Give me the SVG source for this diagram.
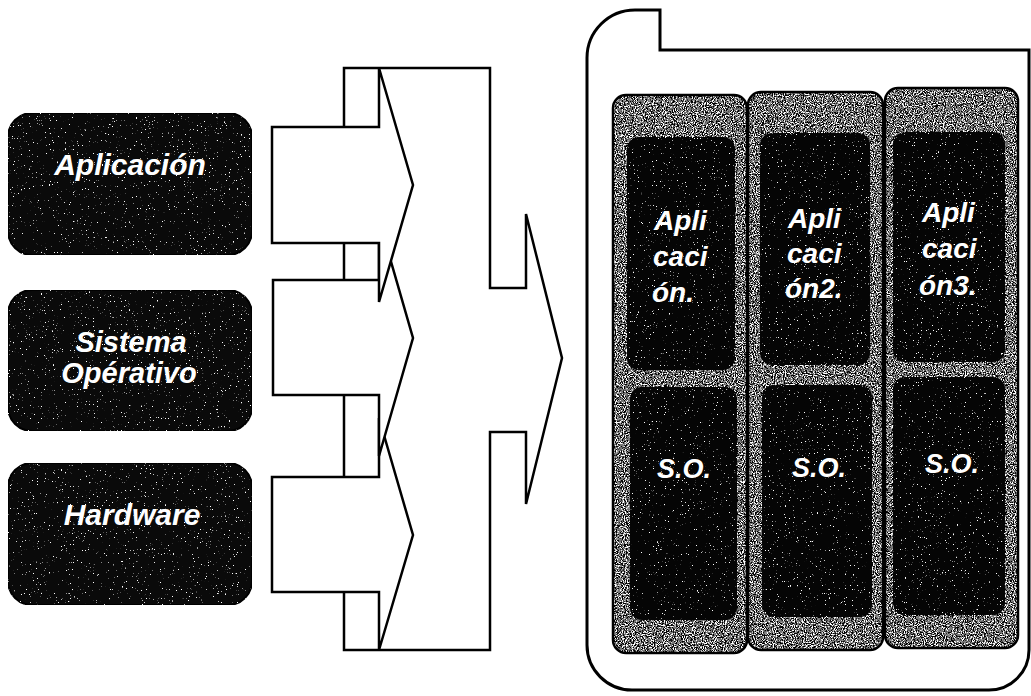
<svg xmlns="http://www.w3.org/2000/svg" width="1031" height="696" viewBox="0 0 1031 696">
<defs>
<filter id="speckDark" x="0" y="0" width="100%" height="100%" color-interpolation-filters="sRGB">
<feTurbulence type="fractalNoise" baseFrequency="0.75" numOctaves="2" seed="7" result="t"/>
<feColorMatrix in="t" type="matrix" values="0 0 0 0 1  0 0 0 0 1  0 0 0 0 1  14 0 0 0 -9.8" result="w"/>
<feComposite in="w" in2="SourceAlpha" operator="in" result="wd"/>
<feMerge><feMergeNode in="SourceGraphic"/><feMergeNode in="wd"/></feMerge>
</filter>
<filter id="speckGrey" x="0" y="0" width="100%" height="100%" color-interpolation-filters="sRGB">
<feTurbulence type="fractalNoise" baseFrequency="0.9" numOctaves="2" seed="3" result="t"/>
<feColorMatrix in="t" type="matrix" values="0 0 0 0 1  0 0 0 0 1  0 0 0 0 1  12 0 0 0 -6.6" result="w"/>
<feColorMatrix in="t" type="matrix" values="0 0 0 0 0  0 0 0 0 0  0 0 0 0 0  -12 0 0 0 5.8" result="b"/>
<feMerge result="m"><feMergeNode in="SourceGraphic"/><feMergeNode in="w"/><feMergeNode in="b"/></feMerge>
<feComposite in="m" in2="SourceAlpha" operator="in"/>
</filter>
</defs>
<style>
.box{fill:#0a0a0a;stroke:#000;stroke-width:2;filter:url(#speckDark)}
.col{fill:#777;filter:url(#speckGrey)}
.colo{fill:none;stroke:#000;stroke-width:2.5}
.inner{fill:#050505;filter:url(#speckDark)}
.lbl{font-family:"Liberation Sans",Arial,sans-serif;font-weight:bold;font-style:italic;fill:#fff}
.arr{fill:#fff;stroke:#000;stroke-width:2.5;stroke-linejoin:miter}
.cont{fill:#fff;stroke:#000;stroke-width:3}
</style>
<rect width="1031" height="696" fill="#fff"/>
<g id="box-aplicacion">
<rect class="box" x="8" y="113" width="244" height="142" rx="24"/>
<text class="lbl" x="130" y="175" font-size="30" text-anchor="middle">Aplicación</text>
</g>
<g id="box-sistema-operativo">
<rect class="box" x="8" y="290" width="244" height="141" rx="24"/>
<text class="lbl" x="131" y="352" font-size="29" text-anchor="middle">Sistema</text>
<text class="lbl" x="129" y="383" font-size="29" text-anchor="middle">Opérativo</text>
</g>
<g id="box-hardware">
<rect class="box" x="8" y="463" width="244" height="142" rx="24"/>
<text class="lbl" x="132" y="525" font-size="30" text-anchor="middle">Hardware</text>
</g>
<g id="connectors">
<polygon id="big-arrow" class="arr" points="344,68 490,68 490,288 526,288 526,214 562,358 526,504 526,432 490,432 490,650 344,650"/>
<polygon id="arrow-hardware" class="arr" points="272,477 379,477 379,418 413,535 379,650 379,592 272,592"/>
<polygon id="arrow-so" class="arr" points="273,280 379,280 379,220 413,338 379,456 379,395 273,395"/>
<polygon id="arrow-aplicacion" class="arr" points="272,127 379,127 379,68 413,185 379,302 379,243 272,243"/>
</g>
<g id="container">
<path class="cont" d="M660,50 H1029 V650 A40,40 0 0 1 989,690 H632 A45,45 0 0 1 587,645 V58 A48,48 0 0 1 635,10 H660 Z"/>
</g>
<g id="vm1">
<rect class="col" x="613" y="95" width="134" height="558" rx="13"/>
<rect class="colo" x="613" y="95" width="134" height="558" rx="13"/>
<rect class="inner" x="627" y="137" width="108" height="233" rx="12"/>
<rect class="inner" x="630" y="387" width="107" height="233" rx="12"/>
<text class="lbl" font-size="28" x="654" y="230">Apli</text>
<text class="lbl" font-size="28" x="653" y="266">caci</text>
<text class="lbl" font-size="28" x="652" y="302">ón.</text>
<text class="lbl" font-size="27" x="657" y="478">S.O.</text>
</g>
<g id="vm2">
<rect class="col" x="748" y="92" width="135" height="558" rx="13"/>
<rect class="colo" x="748" y="92" width="135" height="558" rx="13"/>
<rect class="inner" x="760" y="133" width="110" height="232" rx="12"/>
<rect class="inner" x="762" y="385" width="110" height="232" rx="12"/>
<text class="lbl" font-size="28" x="788" y="228">Apli</text>
<text class="lbl" font-size="28" x="787" y="263">caci</text>
<text class="lbl" font-size="28" x="785" y="298">ón2.</text>
<text class="lbl" font-size="27" x="792" y="477">S.O.</text>
</g>
<g id="vm3">
<rect class="col" x="885" y="88" width="133" height="560" rx="13"/>
<rect class="colo" x="885" y="88" width="133" height="560" rx="13"/>
<rect class="inner" x="893" y="132" width="112" height="230" rx="12"/>
<rect class="inner" x="893" y="377" width="112" height="238" rx="12"/>
<text class="lbl" font-size="28" x="922" y="222">Apli</text>
<text class="lbl" font-size="28" x="922" y="258">caci</text>
<text class="lbl" font-size="28" x="919" y="295">ón3.</text>
<text class="lbl" font-size="27" x="925" y="473">S.O.</text>
</g>
</svg>
